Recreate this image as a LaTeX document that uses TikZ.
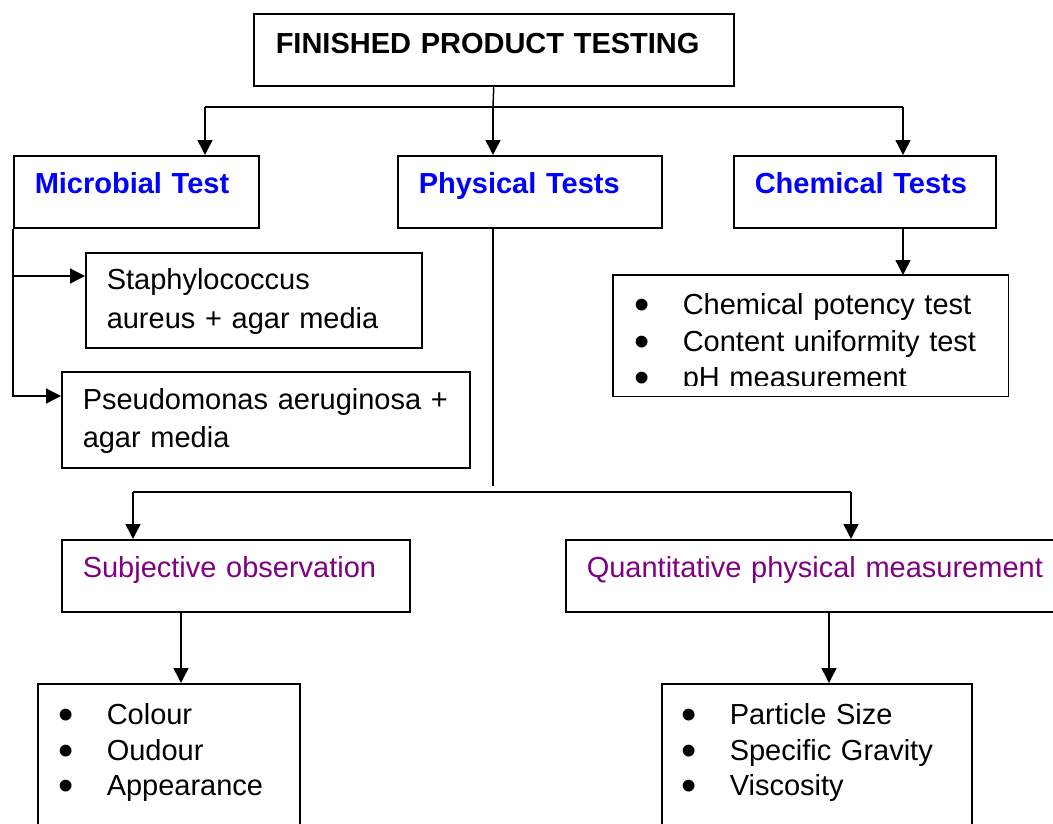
\documentclass[tikz,border=0pt]{standalone}
\usepackage{fontspec}
\setmainfont{Liberation Sans}
\usetikzlibrary{arrows.meta}
\definecolor{headblue}{RGB}{0,0,255}
\definecolor{subpurple}{RGB}{128,0,128}
\newcommand{\bul}{\makebox[47pt][l]{\hspace*{-1pt}\smash{\raisebox{-5pt}{\scalebox{1.5}{\textbullet}}}}}
\begin{document}
\begin{tikzpicture}[x=1pt,y=-1pt]
\tikzset{box/.style={draw, line width=1.5pt, anchor=north west, inner ysep=0pt, align=left, font=\fontsize{29}{38}\selectfont},
         head/.style={box, inner xsep=21pt, text height=38pt, text depth=34pt, font=\fontsize{29}{38}\selectfont\bfseries, text=headblue},
         sub/.style={box, inner xsep=21pt, text height=38pt, text depth=34pt, text=subpurple},
         listbox/.style={box, inner xsep=22pt, font=\fontsize{29}{35.5}\selectfont},
         conn/.style={line width=1.5pt},
         arr/.style={conn, -{Triangle[length=15pt,width=15pt]}}}
    \useasboundingbox (0,0) rectangle (1053,823);
    \clip (0,0) rectangle (1053,823);

    \node[box, inner xsep=22pt, text width=436pt, text height=40pt, text depth=32pt] at (253,13) (top) {\textbf{FINISHED PRODUCT TESTING}};
    \node[head, text width=203pt] at (13,155) (micro) {Microbial Test};
    \node[head, text width=222pt] at (397,155) (phys) {Physical Tests};
    \node[head, text width=220pt] at (733,155) (chem) {Chemical Tests};

    \node[box, inner xsep=21pt, text width=294pt, text height=37pt, text depth=58pt, font=\fontsize{29}{39}\selectfont] at (85,252) (staph) {Staphylococcus\\aureus + agar media};
    \node[box, inner xsep=21pt, text width=366pt, text height=38pt, text depth=58pt] at (61,371) (pseud) {Pseudomonas aeruginosa~+\\agar media};

    % third line is cut off by the frame
    \begin{scope}
    \clip (613,275) rectangle (1007,385);
    \node[listbox, draw=none, text width=350pt, text height=39pt, text depth=81pt, font=\fontsize{29}{36.4}\selectfont] at (613,275) (chemlist) {\bul Chemical potency test\\\bul Content uniformity test\\\bul pH measurement};
    \end{scope}
    \draw[conn] (chemlist.north west) rectangle (chemlist.south east);

    \node[sub, text width=306pt] at (61,539) (subj) {Subjective observation};
    \node[sub, text width=478pt] at (565,539) (quant) {Quantitative physical measurement};

    \node[listbox, text width=218pt, text height=41pt, text depth=160pt] at (37,683) (colours) {\bul Colour\\\bul Oudour\\\bul Appearance};
    \node[listbox, inner xsep=21pt, text width=268pt, text height=41pt, text depth=160pt] at (661,683) (props) {\bul Particle Size\\\bul Specific Gravity\\\bul Viscosity};

    \coordinate (jtop) at (493,107);
    \coordinate (jleft) at (205,107);
    \coordinate (jright) at (903,107);
    \coordinate (m1) at (13,276);
    \coordinate (m2) at (13,396);
    \coordinate (pdown) at (493,486);
    \coordinate (pl) at (133,492);
    \coordinate (pr) at (851,492);
    \coordinate (sa) at (181,611);
    \coordinate (qa) at (829,611);

    \draw[conn] (top.south) -- (jtop);
    \draw[conn] (jleft) -- (jright);
    \draw[arr] (jleft) -- (jleft |- micro.north);
    \draw[arr] (jtop) -- (jtop |- phys.north);
    \draw[arr] (jright) -- (jright |- chem.north);

    \draw[arr] (micro.south west) -- (m2) -- (m2 -| pseud.west);
    \draw[arr] (m1) -- (m1 -| staph.west);

    \draw[arr] (jright |- chem.south) -- (jright |- chemlist.north);

    \draw[conn] (pdown |- phys.south) -- (pdown);
    \draw[conn] (pl) -- (pr);
    \draw[arr] (pl) -- (pl |- subj.north);
    \draw[arr] (pr) -- (pr |- quant.north);

    \draw[arr] (sa) -- (sa |- colours.north);
    \draw[arr] (qa) -- (qa |- props.north);

  \end{tikzpicture}
\end{document}
